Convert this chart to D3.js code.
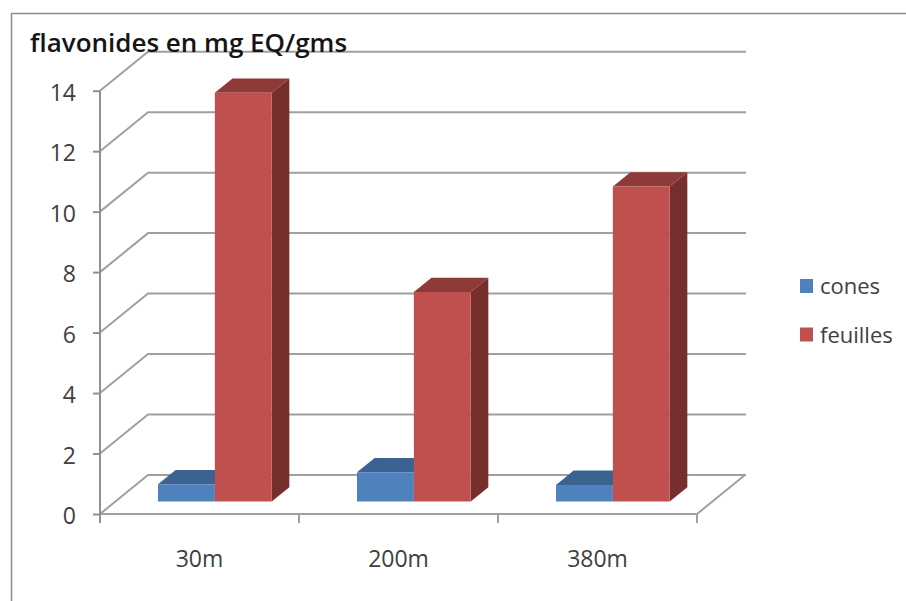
<!DOCTYPE html>
<html>
<head>
<meta charset="utf-8">
<script src="https://cdn.jsdelivr.net/npm/d3@7"></script>
<style>
  html, body { margin: 0; padding: 0; background: #fff; }
  svg { display: block; font-family: "Open Sans", "DejaVu Sans", sans-serif; }
</style>
</head>
<body>
<svg id="chart" width="906" height="601"></svg>
<script>
// Flavonoid content (mg EQ/g) by altitude, cones vs. leaves
const categories = ["30m", "200m", "380m"];
const seriesNames = ["cones", "feuilles"];
const cones = [0.57, 0.97, 0.55];
const feuilles = [13.52, 6.93, 10.42];
const yTicks = [0, 2, 4, 6, 8, 10, 12, 14];
const titleText = "flavonides en mg EQ/gms";

const seriesValues = [cones, feuilles];
const palette = {
  cones:    { front: "#4f81bd", top: "#3b6291", side: "#2f4f75" },
  feuilles: { front: "#c0504d", top: "#8e3a38", side: "#772f2d" }
};

const svg = d3.select("#chart");

// Plot geometry: floor front edge and oblique depth vector
const left = 100, right = 697, base = 514;
const DX = 48, DY = -39;            // full depth of floor/walls
const wallRight = 746;               // right end of back-wall gridlines
const d0 = 0.32, d1 = 0.687;         // bar depth span (fraction of floor depth)

const y = d3.scaleLinear().domain([0, 14]).range([base, 90.7]);
const xCat = d3.scaleBand().domain(categories).range([left, right]).padding(0);
const xSer = d3.scaleBand().domain(seriesNames).range([0, xCat.bandwidth()])
  .paddingInner(0).paddingOuter(0.75);

const P = (x, v, d) => [x + d * DX, y(v) + d * DY];
const poly = pts => "M" + pts.map(p => p.join(",")).join("L") + "Z";

// Outer chart frame
svg.append("rect")
  .attr("x", 11.5).attr("y", 13.5).attr("width", 1000).attr("height", 1000)
  .attr("fill", "none").attr("stroke", "#8c8c8c").attr("stroke-width", 1.5);

const grid = svg.append("g")
  .attr("fill", "none").attr("stroke", "#a0a0a0").attr("stroke-width", 2);

// Side-wall diagonals and back-wall gridlines
grid.selectAll("path.gl").data(yTicks).join("path")
  .attr("class", "gl")
  .attr("d", t => {
    const a = P(left, t, 0), b = P(left, t, 1);
    return `M${a}L${b}L${wallRight},${b[1]}`;
  });

// Floor: front edge and right edge
grid.append("path")
  .attr("d", () => {
    const a = P(left, 0, 0), b = P(right, 0, 0), c = P(right, 0, 1);
    return `M${a}L${b}L${c}`;
  });

// Category boundary ticks on the floor front edge
const bounds = categories.map(c => xCat(c)).concat([xCat(categories[categories.length - 1]) + xCat.bandwidth()]);
grid.selectAll("line.xt").data(bounds).join("line")
  .attr("class", "xt")
  .attr("x1", d => d).attr("x2", d => d)
  .attr("y1", base).attr("y2", base + 9);

// Value axis
const yAxis = svg.append("g")
  .attr("transform", `translate(${left},0)`)
  .call(d3.axisLeft(y).tickValues(yTicks).tickSizeInner(7).tickSizeOuter(0).tickPadding(17));
yAxis.select(".domain").remove();
yAxis.selectAll(".tick line").attr("stroke", "#909090").attr("stroke-width", 2);
yAxis.selectAll(".tick text")
  .attr("font-family", "Open Sans").attr("font-size", 23).attr("fill", "#404040")
  .attr("dy", "0.42em");
svg.append("line")
  .attr("x1", left).attr("x2", left).attr("y1", y(14)).attr("y2", base + 9)
  .attr("stroke", "#909090").attr("stroke-width", 2);

// Category labels
const xAxis = svg.append("g")
  .attr("transform", `translate(0,${base})`)
  .call(d3.axisBottom(xCat).tickSize(0).tickPadding(0));
xAxis.select(".domain").remove();
xAxis.selectAll(".tick text")
  .attr("font-family", "Open Sans").attr("font-size", 23).attr("fill", "#404040")
  .attr("y", 53).attr("dy", 0);

// 3D columns
const bars = svg.append("g");
categories.forEach((cat, i) => {
  seriesNames.forEach((s, j) => {
    const v = seriesValues[j][i];
    const x0 = xCat(cat) + xSer(s), x1 = x0 + xSer.bandwidth();
    const col = palette[s];
    const g = bars.append("g");
    g.append("path").attr("fill", col.side)
      .attr("d", poly([P(x1, 0, d0), P(x1, 0, d1), P(x1, v, d1), P(x1, v, d0)]));
    g.append("path").attr("fill", col.top)
      .attr("d", poly([P(x0, v, d0), P(x1, v, d0), P(x1, v, d1), P(x0, v, d1)]));
    g.append("path").attr("fill", col.front)
      .attr("d", poly([P(x0, 0, d0), P(x1, 0, d0), P(x1, v, d0), P(x0, v, d0)]));
  });
});

// Title
svg.append("text")
  .attr("x", 30).attr("y", 52)
  .attr("font-family", "Open Sans").attr("font-size", 26).attr("font-weight", 600)
  .attr("fill", "#151515")
  .text(titleText);

// Legend
const legend = svg.append("g").attr("transform", "translate(800,279)");
const li = legend.selectAll("g").data(seriesNames).join("g")
  .attr("transform", (d, i) => `translate(0,${i * 48.5})`);
li.append("rect").attr("width", 13).attr("height", 14)
  .attr("fill", d => palette[d].front);
li.append("text").attr("x", 20).attr("y", 15)
  .attr("font-family", "Open Sans").attr("font-size", 22).attr("fill", "#404040")
  .text(d => d);
</script>
</body>
</html>
